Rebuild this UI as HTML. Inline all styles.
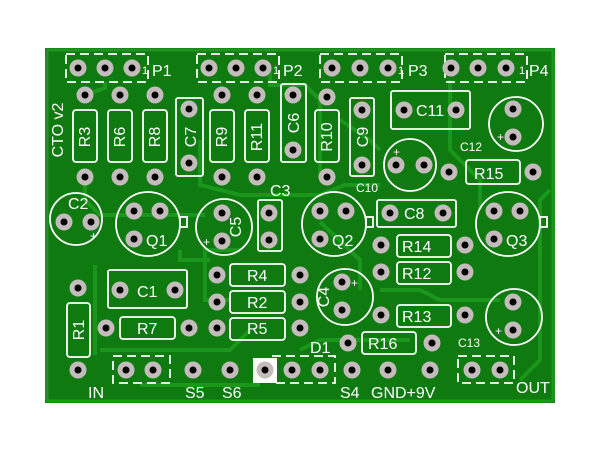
<!DOCTYPE html>
<html><head><meta charset="utf-8"><style>
html,body{margin:0;padding:0;background:#fff;width:600px;height:450px;overflow:hidden}
svg text{font-family:"Liberation Sans",sans-serif;fill:#fff}
</style></head><body>
<svg width="600" height="450" viewBox="0 0 600 450" xmlns="http://www.w3.org/2000/svg">
<defs>
<g id="p"><circle r="8.5" fill="#c4bcbc"/><circle r="3.5" fill="#000"/></g>
</defs>
<rect x="45" y="48" width="510" height="355" fill="#0f7a10"/>
<rect x="47" y="50" width="506" height="351" fill="none" stroke="#1f9420" stroke-width="3"/>
<!-- traces -->
<g stroke="#1d9a1e" stroke-width="4" fill="none" opacity="0.9">
<path d="M85 177 L85 200 L100 215 L205 215"/>
<path d="M105 82 L105 88 L85 95"/>
<path d="M200 140 L200 185 L240 195 L320 195 L345 185 L380 185"/>
<path d="M230 300 L205 300 L205 250 L240 250"/>
<path d="M320 222 L360 260 L360 290"/>
<path d="M270 70 L270 85 L305 85 L320 100 L320 175"/>
<path d="M450 80 L450 150 L480 180 L480 210"/>
<path d="M550 190 L540 200 L540 360 L520 380"/>
<path d="M100 350 L230 350 L250 330"/>
<path d="M380 290 L420 290 L440 300 L500 300"/>
<path d="M180 250 L180 260 L210 260"/>
<path d="M340 120 L370 140 L380 150"/>
<path d="M95 265 L95 355"/>
<path d="M300 350 L320 340 L410 340"/>
<path d="M140 385 L230 385 L260 385"/>
</g>
<g stroke="#fff" stroke-width="1.8" fill="none">
<!-- headers dashed -->
<g stroke-dasharray="9,5">
<rect x="66" y="54" width="82" height="28"/>
<rect x="197" y="54" width="82" height="28"/>
<rect x="320" y="54" width="82" height="28"/>
<rect x="445" y="54" width="82" height="28"/>
<rect x="113" y="356" width="57" height="27"/>
<rect x="272" y="356" width="63" height="27"/>
<rect x="458" y="356" width="56" height="27"/>
</g>
<!-- resistor boxes vertical -->
<rect x="73" y="110" width="24" height="52" rx="3"/>
<rect x="108" y="110" width="24" height="52" rx="3"/>
<rect x="143" y="110" width="24" height="52" rx="3"/>
<rect x="210" y="110" width="24" height="52" rx="3"/>
<rect x="245" y="110" width="24" height="52" rx="3"/>
<rect x="315" y="110" width="24" height="52" rx="3"/>
<rect x="67" y="303" width="23" height="54" rx="3"/>
<!-- cap boxes -->
<rect x="176" y="98" width="27" height="78" rx="2"/>
<rect x="281" y="84" width="25" height="78" rx="2"/>
<rect x="350" y="98" width="24" height="78" rx="2"/>
<rect x="258" y="200" width="24" height="51" rx="2"/>
<rect x="391" y="91" width="79" height="38" rx="2"/>
<rect x="377" y="200" width="79" height="27" rx="2"/>
<rect x="108" y="270" width="79" height="38" rx="2"/>
<!-- horizontal resistors -->
<rect x="466" y="160" width="54" height="24" rx="3"/>
<rect x="397" y="235" width="54" height="22" rx="3"/>
<rect x="397" y="262" width="54" height="22" rx="3"/>
<rect x="397" y="305" width="54" height="22" rx="3"/>
<rect x="362" y="332" width="54" height="22" rx="3"/>
<rect x="230" y="264" width="55" height="22" rx="3"/>
<rect x="230" y="291" width="55" height="22" rx="3"/>
<rect x="230" y="318" width="55" height="22" rx="3"/>
<rect x="120" y="317" width="55" height="22" rx="3"/>
<!-- circles -->
<circle cx="76" cy="219" r="26"/>
<circle cx="148" cy="224" r="32"/>
<circle cx="224" cy="227" r="28"/>
<circle cx="334" cy="224" r="32"/>
<circle cx="508" cy="224" r="32"/>
<circle cx="410" cy="165" r="26"/>
<circle cx="516" cy="124" r="27"/>
<circle cx="345" cy="297" r="28"/>
<circle cx="514" cy="317" r="28"/>
<rect x="180" y="217" width="7" height="10"/>
<rect x="366" y="217" width="7" height="10"/>
<rect x="540" y="217" width="7" height="10"/>
</g>
<rect x="253" y="358" width="24" height="25" fill="#fff"/>
<!-- pads -->
<g>
<use href="#p" x="78" y="68"/><use href="#p" x="105" y="68"/><use href="#p" x="132" y="68"/>
<use href="#p" x="209" y="68"/><use href="#p" x="236" y="68"/><use href="#p" x="263" y="68"/>
<use href="#p" x="332" y="68"/><use href="#p" x="360" y="68"/><use href="#p" x="388" y="68"/>
<use href="#p" x="451" y="68"/><use href="#p" x="478" y="68"/><use href="#p" x="506" y="68"/>
<use href="#p" x="85" y="95"/><use href="#p" x="120" y="95"/><use href="#p" x="155" y="95"/><use href="#p" x="222" y="95"/><use href="#p" x="257" y="95"/>
<use href="#p" x="85" y="177"/><use href="#p" x="120" y="177"/><use href="#p" x="155" y="177"/><use href="#p" x="222" y="177"/><use href="#p" x="257" y="177"/>
<use href="#p" x="189" y="109"/><use href="#p" x="189" y="163"/>
<use href="#p" x="293" y="95"/><use href="#p" x="293" y="150"/>
<use href="#p" x="327" y="97"/><use href="#p" x="327" y="177"/>
<use href="#p" x="362" y="110"/><use href="#p" x="362" y="165"/>
<use href="#p" x="404" y="110"/><use href="#p" x="456" y="110"/>
<use href="#p" x="513" y="109"/><use href="#p" x="513" y="137"/>
<use href="#p" x="396" y="165"/><use href="#p" x="424" y="165"/>
<use href="#p" x="449" y="172"/><use href="#p" x="533" y="172"/>
<use href="#p" x="64" y="222"/><use href="#p" x="91" y="222"/>
<use href="#p" x="134" y="211"/><use href="#p" x="160" y="211"/><use href="#p" x="134" y="239"/>
<use href="#p" x="222" y="213"/><use href="#p" x="222" y="241"/>
<use href="#p" x="269" y="213"/><use href="#p" x="269" y="240"/>
<use href="#p" x="320" y="211"/><use href="#p" x="346" y="211"/><use href="#p" x="320" y="239"/>
<use href="#p" x="390" y="213"/><use href="#p" x="443" y="213"/>
<use href="#p" x="494" y="211"/><use href="#p" x="520" y="211"/><use href="#p" x="494" y="239"/>
<use href="#p" x="381" y="245"/><use href="#p" x="465" y="245"/>
<use href="#p" x="381" y="272"/><use href="#p" x="465" y="272"/>
<use href="#p" x="381" y="315"/><use href="#p" x="465" y="315"/>
<use href="#p" x="348" y="343"/><use href="#p" x="432" y="343"/>
<use href="#p" x="342" y="282"/><use href="#p" x="342" y="310"/>
<use href="#p" x="513" y="302"/><use href="#p" x="513" y="330"/>
<use href="#p" x="217" y="275"/><use href="#p" x="300" y="275"/>
<use href="#p" x="217" y="302"/><use href="#p" x="300" y="302"/>
<use href="#p" x="217" y="328"/><use href="#p" x="300" y="328"/>
<use href="#p" x="120" y="290"/><use href="#p" x="175" y="290"/>
<use href="#p" x="106" y="328"/><use href="#p" x="189" y="328"/>
<use href="#p" x="78" y="288"/>
<use href="#p" x="78" y="370"/><use href="#p" x="126" y="370"/><use href="#p" x="153" y="370"/>
<use href="#p" x="193" y="370"/><use href="#p" x="230" y="370"/><use href="#p" x="265" y="370"/>
<use href="#p" x="292" y="370"/><use href="#p" x="320" y="370"/>
<use href="#p" x="352" y="370"/><use href="#p" x="388" y="370"/><use href="#p" x="430" y="370"/>
<use href="#p" x="472" y="370"/><use href="#p" x="500" y="370"/>
</g>
<!-- labels -->
<g font-size="16">
<text x="152" y="76">P1</text><text x="283" y="76">P2</text><text x="408" y="76">P3</text><text x="529" y="76">P4</text>
<g font-size="11"><text x="142" y="74">1</text><text x="273" y="74">1</text><text x="398" y="74">1</text><text x="519" y="74">1</text></g>
<text transform="translate(90,137) rotate(-90)" text-anchor="middle">R3</text>
<text transform="translate(125,137) rotate(-90)" text-anchor="middle">R6</text>
<text transform="translate(160,137) rotate(-90)" text-anchor="middle">R8</text>
<text transform="translate(196,137) rotate(-90)" text-anchor="middle">C7</text>
<text transform="translate(227,137) rotate(-90)" text-anchor="middle">R9</text>
<text transform="translate(262,137) rotate(-90)" text-anchor="middle">R11</text>
<text transform="translate(299,123) rotate(-90)" text-anchor="middle">C6</text>
<text transform="translate(332,137) rotate(-90)" text-anchor="middle">R10</text>
<text transform="translate(368,137) rotate(-90)" text-anchor="middle">C9</text>
<text transform="translate(63,130) rotate(-90)" text-anchor="middle">CTO v2</text>
<text transform="translate(241,227) rotate(-90)" text-anchor="middle">C5</text>
<text transform="translate(329,297) rotate(-90)" text-anchor="middle">C4</text>
<text transform="translate(84,330) rotate(-90)" text-anchor="middle">R1</text>
<text x="416" y="116">C11</text>
<text x="474" y="179">R15</text>
<text x="404" y="219">C8</text>
<text x="402" y="252">R14</text>
<text x="402" y="279">R12</text>
<text x="402" y="322">R13</text>
<text x="368" y="349">R16</text>
<text x="247" y="281">R4</text>
<text x="247" y="308">R2</text>
<text x="247" y="334">R5</text>
<text x="137" y="334">R7</text>
<text x="137" y="297">C1</text>
<text x="68" y="209">C2</text>
<text x="146" y="246">Q1</text>
<text x="332" y="246">Q2</text>
<text x="506" y="246">Q3</text>
<text x="270" y="196">C3</text>
<text x="310" y="353">D1</text>
<text x="88" y="398">IN</text>
<text x="185" y="398">S5</text>
<text x="222" y="398">S6</text>
<text x="340" y="398">S4</text>
<text x="371" y="398">GND+9V</text>
<text x="516" y="393">OUT</text>
<g font-size="12"><text x="356" y="192">C10</text><text x="460" y="151">C12</text><text x="458" y="347">C13</text>
<text x="90" y="240">+</text><text x="203" y="246">+</text><text x="393" y="156">+</text><text x="497" y="141">+</text><text x="351" y="287">+</text><text x="495" y="335">+</text></g>
</g>
</svg>
</body></html>
